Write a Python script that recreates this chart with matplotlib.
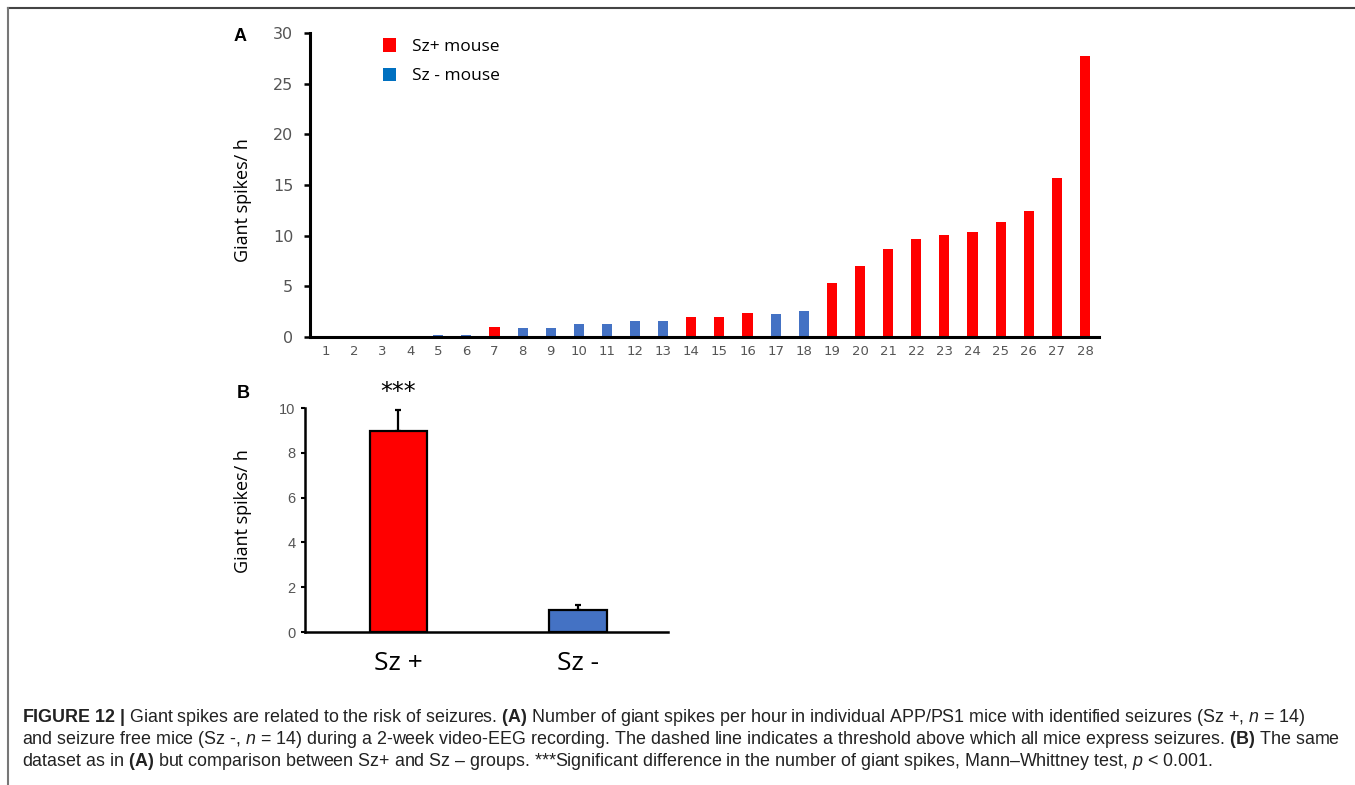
import matplotlib
matplotlib.use("Agg")
import matplotlib.pyplot as plt
from matplotlib.patches import Patch
from matplotlib.lines import Line2D
import numpy as np

# ---------- data ----------

# panel A: giant spikes per hour for each mouse, sorted
mouse_ids = list(range(1, 29))
spike_rate = [0, 0, 0, 0, 0.23, 0.23, 1.02, 0.92, 0.92, 1.28, 1.28, 1.56, 1.56, 1.96,
              1.96, 2.33, 2.30, 2.60, 5.33, 7.04, 8.72, 9.67, 10.03, 10.36, 11.38,
              12.40, 15.70, 27.77]
has_seizures = [False, False, False, False, False, False, True, False, False, False,
                False, False, False, True, True, True, False, False, True, True,
                True, True, True, True, True, True, True, True]

# panel B: group means and SEM
groups = ["Sz +", "Sz -"]
group_mean = [8.96, 1.00]
group_sem = [0.97, 0.22]

RED = "#ff0000"
BLUE = "#4472c4"
TICK_GREY = "#555555"

plt.rcParams["mathtext.fontset"] = "custom"
plt.rcParams["mathtext.rm"] = "Liberation Sans"
plt.rcParams["mathtext.it"] = "Liberation Sans:italic"
plt.rcParams["mathtext.bf"] = "Liberation Sans:bold"

W, H = 1355, 785
fig = plt.figure(figsize=(W / 100, H / 100), dpi=100)


def px_axes(left, top, right, bottom):
    return fig.add_axes([left / W, 1 - bottom / H, (right - left) / W, (bottom - top) / H])


# ---------- panel A ----------
axA = px_axes(310, 33, 1099, 337)
colors = [RED if s else BLUE for s in has_seizures]
axA.bar(mouse_ids, spike_rate, width=0.36, color=colors)
axA.set_xlim(0.44, 28.5)
axA.set_ylim(0, 30)
axA.set_yticks(range(0, 31, 5))
axA.set_xticks(mouse_ids)
for s in ["top", "right"]:
    axA.spines[s].set_visible(False)
for s in ["left", "bottom"]:
    axA.spines[s].set_linewidth(2.2)
axA.tick_params(axis="y", direction="out", length=4, width=1.8, labelsize=11.5,
                labelcolor=TICK_GREY, pad=8)
axA.tick_params(axis="x", length=0, labelsize=9.5, labelcolor=TICK_GREY, pad=6)
axA.set_ylabel("Giant spikes/ h", fontsize=13, family="Open Sans")
axA.yaxis.set_label_coords(-0.0735, 0.45)

handles = [Patch(facecolor=RED, label="Sz+ mouse"),
           Patch(facecolor="#0070c0", label="Sz - mouse")]
axA.legend(handles=handles, loc="upper left", bbox_to_anchor=(0.092, 0.982),
           frameon=False, prop={"family": "Open Sans", "size": 12.5},
           handlelength=0.8, handleheight=0.8, handletextpad=0.9,
           labelspacing=0.72, borderpad=0, borderaxespad=0)
axA.text(-0.089, 0.99, "A", transform=axA.transAxes, fontsize=13,
         fontweight="bold", family="Liberation Sans", va="center", ha="center")

# ---------- panel B ----------
axB = px_axes(305, 408, 668, 632)
xpos = np.arange(len(groups))
axB.bar(xpos, group_mean, width=0.32, color=[RED, BLUE], edgecolor="black",
        linewidth=1.6, zorder=3)
axB.errorbar(xpos, group_mean, yerr=[[0, 0], group_sem], fmt="none",
             ecolor="black", elinewidth=1.6, capsize=2.5, capthick=1.6, zorder=2)
axB.set_xlim(-0.52, 1.5)
axB.set_ylim(0, 10)
axB.set_yticks(range(0, 11, 2))
axB.set_xticks(xpos)
axB.set_xticklabels(groups, family="Open Sans", fontsize=19)
for s in ["top", "right"]:
    axB.spines[s].set_visible(False)
for s in ["left", "bottom"]:
    axB.spines[s].set_linewidth(1.8)
axB.tick_params(axis="y", direction="out", length=3, width=1.5, labelsize=10.5,
                labelcolor=TICK_GREY, labelfontfamily="Liberation Sans", pad=4)
axB.tick_params(axis="x", length=0, pad=14)
axB.set_ylabel("Giant spikes/ h", fontsize=13, family="Open Sans")
axB.yaxis.set_label_coords(-0.146, 0.54)
axB.text(xpos[0], group_mean[0] + group_sem[0] + 0.25, "***", ha="center",
         va="bottom", fontsize=17, family="DejaVu Sans")
axB.text(-0.171, 1.066, "B", transform=axB.transAxes, fontsize=13,
         fontweight="bold", family="Liberation Sans", va="center", ha="center")

# ---------- caption ----------
caption = [
    r"$\mathbf{FIGURE\ 12\ |}$ Giant spikes are related to the risk of seizures. "
    r"$\mathbf{(A)}$ Number of giant spikes per hour in individual APP/PS1 mice "
    r"with identified seizures (Sz +, $n$ = 14)",
    r"and seizure free mice (Sz -, $n$ = 14) during a 2-week video-EEG recording. "
    r"The dashed line indicates a threshold above which all mice express seizures. "
    r"$\mathbf{(B)}$ The same",
    r"dataset as in $\mathbf{(A)}$ but comparison between Sz+ and Sz – groups. "
    r"***Significant difference in the number of giant spikes, Mann–Whittney test, "
    r"$p$ < 0.001.",
]
for i, line in enumerate(caption):
    fig.text(22 / W, 1 - (717 + 22.5 * i) / H, line, ha="left", va="center",
             fontsize=12.9, family="Liberation Sans", color="#222222")

# frame around the figure
fig.add_artist(Line2D([8 / W, 1], [1 - 8 / H, 1 - 8 / H], color="#444444", lw=1.5))
fig.add_artist(Line2D([8 / W, 8 / W], [0, 1 - 8 / H], color="#777777", lw=1.5))

fig.savefig("out.png", dpi=100)
